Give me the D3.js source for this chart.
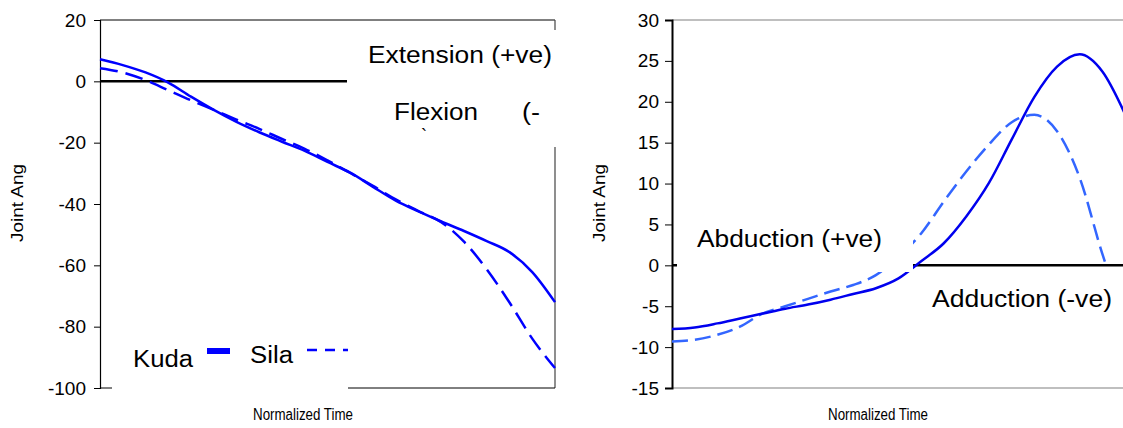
<!DOCTYPE html>
<html>
<head>
<meta charset="utf-8">
<script src="https://cdnjs.cloudflare.com/ajax/libs/d3/7.8.5/d3.min.js"></script>
<style>
  body { margin: 0; background: #fff; }
  text { font-family: "Liberation Sans", Arial, sans-serif; fill: #000; }
</style>
</head>
<body>
<script>
// normalized time, percent of the movement
var timePct = [0, 5, 10, 15, 20, 25, 30, 35, 40, 45, 50, 55, 60, 65, 70, 75, 80, 85, 90, 95, 100];
// Sila's hip trace stops where it meets zero
var hipSilaTime = [0, 5, 10, 15, 20, 25, 30, 35, 40, 45, 50, 55, 60, 65, 70, 75, 80, 85, 90, 95, 96];

// knee flexion / extension (deg)
var kneeKuda = [7.2, 5.3, 2.9, -0.4, -5.0, -9.3, -13.2, -16.6, -19.7, -22.7, -26.3, -29.8, -34.4, -38.9, -42.4, -45.7, -48.8, -52.1, -55.7, -62.2, -72.0];
var kneeSila = [4.3, 2.9, 0.4, -2.9, -6.2, -9.3, -12.5, -15.5, -18.8, -22.0, -25.8, -29.9, -34.1, -38.5, -42.3, -45.9, -52.3, -61.3, -72.1, -83.9, -93.5];

// hip abduction / adduction (deg)
var hipKuda = [-7.8, -7.6, -7.1, -6.5, -5.9, -5.3, -4.8, -4.2, -3.5, -2.8, -1.6, 0.5, 2.7, 6.0, 10.1, 15.4, 20.6, 24.3, 25.8, 23.7, 18.5];
var hipSila = [-9.3, -9.1, -8.5, -7.5, -5.9, -5.0, -4.1, -3.2, -2.4, -1.2, 1.0, 3.9, 7.8, 11.5, 14.8, 17.5, 18.4, 16.4, 10.7, 1.4, -0.3];

var kneeTicks = [20, 0, -20, -40, -60, -80, -100];
var hipTicks = [30, 25, 20, 15, 10, 5, 0, -5, -10, -15];

// plain hyphen for negatives, like the original
var fmt = function (d) { return String(d); };

var svg = d3.select('body').append('svg')
    .attr('width', 1123)
    .attr('height', 428);

// stretched text helper
function label(g, x, y, size, len, str) {
  var t = g.append('text').attr('x', x).attr('y', y).style('font-size', size + 'px').text(str);
  if (len) t.attr('textLength', len).attr('lengthAdjust', 'spacingAndGlyphs');
  return t;
}

// ---------- left panel: knee ----------
var xL = d3.scaleLinear().domain([0, 100]).range([100, 555]);
var yL = d3.scaleLinear().domain([-100, 20]).range([388, 20]);

var left = svg.append('g');

// frame
left.append('line').attr('x1', 100).attr('x2', 555).attr('y1', yL(20)).attr('y2', yL(20))
    .attr('stroke', '#000').attr('stroke-width', 1);
left.append('line').attr('x1', 555).attr('x2', 555).attr('y1', yL(20)).attr('y2', yL(-100))
    .attr('stroke', '#444').attr('stroke-width', 1.2);
left.append('line').attr('x1', 100).attr('x2', 555).attr('y1', yL(-100)).attr('y2', yL(-100))
    .attr('stroke', '#000').attr('stroke-width', 1);

// y axis
var axL = left.append('g')
    .attr('transform', 'translate(100,0)')
    .call(d3.axisLeft(yL).tickValues(kneeTicks).tickSize(6).tickPadding(8).tickFormat(fmt));
axL.select('.domain').attr('stroke', '#000').attr('stroke-width', 1.2);
axL.selectAll('.tick text').style('font-size', '19px').attr('font-family', null);

// zero line
left.append('line').attr('x1', 100).attr('x2', 555).attr('y1', yL(0)).attr('y2', yL(0))
    .attr('stroke', '#000').attr('stroke-width', 2.5);

var lineKnee = function (vals) {
  return d3.line()
    .x(function (d, i) { return xL(timePct[i]); })
    .y(function (d) { return yL(d); })
    .curve(d3.curveMonotoneX)(vals);
};

left.append('path').attr('d', lineKnee(kneeSila))
    .attr('fill', 'none').attr('stroke', '#0000ff').attr('stroke-width', 2.5)
    .attr('stroke-dasharray', '18,8');
left.append('path').attr('d', lineKnee(kneeKuda))
    .attr('fill', 'none').attr('stroke', '#0000ff').attr('stroke-width', 2.5);

// label box that hides part of the frame
left.append('rect').attr('x', 347).attr('y', 30).attr('width', 215).attr('height', 117).attr('fill', '#fff');
label(left, 368, 63, 23, 184, 'Extension (+ve)');
label(left, 394, 120, 23, 84, 'Flexion');
label(left, 522, 120, 23, 18, '(-');
label(left, 421, 142, 18, 0, '`');

// legend box (covers the x axis line)
left.append('rect').attr('x', 112).attr('y', 325).attr('width', 236).attr('height', 66).attr('fill', '#fff');
label(left, 133, 367, 23, 60, 'Kuda');
left.append('line').attr('x1', 207).attr('x2', 230).attr('y1', 351).attr('y2', 351)
    .attr('stroke', '#0000ff').attr('stroke-width', 6);
label(left, 250, 363, 23, 43, 'Sila');
left.append('line').attr('x1', 307).attr('x2', 348).attr('y1', 350).attr('y2', 350)
    .attr('stroke', '#0000ff').attr('stroke-width', 2.5).attr('stroke-dasharray', '10,8');

// axis titles
label(left, 253, 420, 16, 100, 'Normalized Time');
left.append('text').attr('transform', 'translate(23,242) rotate(-90)').style('font-size', '17px')
    .attr('textLength', 78).attr('lengthAdjust', 'spacingAndGlyphs').text('Joint Ang');

// ---------- right panel: hip ----------
var xR = d3.scaleLinear().domain([0, 100]).range([672, 1125]);
var yR = d3.scaleLinear().domain([-15, 30]).range([388, 20]);

var right = svg.append('g');

right.append('line').attr('x1', 672).attr('x2', 1125).attr('y1', yR(30)).attr('y2', yR(30))
    .attr('stroke', '#808080').attr('stroke-width', 1.2);
right.append('line').attr('x1', 672).attr('x2', 1125).attr('y1', yR(-15)).attr('y2', yR(-15))
    .attr('stroke', '#808080').attr('stroke-width', 1.2);

var axR = right.append('g')
    .attr('transform', 'translate(672,0)')
    .call(d3.axisLeft(yR).tickValues(hipTicks).tickSize(7).tickPadding(6).tickFormat(fmt));
axR.select('.domain').attr('stroke', '#000').attr('stroke-width', 2);
axR.selectAll('.tick text').style('font-size', '19px').attr('font-family', null);

right.append('line').attr('x1', 672).attr('x2', 1125).attr('y1', yR(0)).attr('y2', yR(0))
    .attr('stroke', '#000').attr('stroke-width', 2.5);

right.append('path')
    .attr('d', d3.line()
      .x(function (d, i) { return xR(hipSilaTime[i]); })
      .y(function (d) { return yR(d); })
      .curve(d3.curveMonotoneX)(hipSila))
    .attr('fill', 'none').attr('stroke', '#3366ff').attr('stroke-width', 2.5)
    .attr('stroke-dasharray', '16,7');
right.append('path')
    .attr('d', d3.line()
      .x(function (d, i) { return xR(timePct[i]); })
      .y(function (d) { return yR(d); })
      .curve(d3.curveMonotoneX)(hipKuda))
    .attr('fill', 'none').attr('stroke', '#0000ee').attr('stroke-width', 2.5);

// label boxes
right.append('rect').attr('x', 677).attr('y', 220).attr('width', 236).attr('height', 52).attr('fill', '#fff');
label(right, 697, 247, 23, 185, 'Abduction (+ve)');
label(right, 932, 307, 23, 180, 'Adduction (-ve)');

label(right, 828, 420, 16, 100, 'Normalized Time');
right.append('text').attr('transform', 'translate(605,242) rotate(-90)').style('font-size', '17px')
    .attr('textLength', 78).attr('lengthAdjust', 'spacingAndGlyphs').text('Joint Ang');
</script>
</body>
</html>
